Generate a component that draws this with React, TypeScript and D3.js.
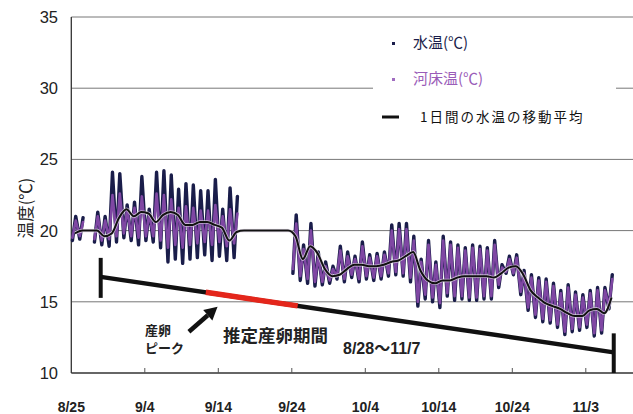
import React from "react";
import * as d3 from "d3";

// ---- data ----
const tickDays = [0, 10, 20, 30, 40, 50, 60, 70];
const tickLabels = ["8/25", "9/4", "9/14", "9/24", "10/4", "10/14", "10/24", "11/3"];
const yTicks = [10, 15, 20, 25, 30, 35];

const N = null;
// daily values, day 0 = 8/25
const waterMax = [
  21.0, 20.9, N,
  21.3, 21.0, 24.1, 24.0, 21.8, 22.0, 23.8, 21.5, 24.1, 24.2, 23.9, 22.9, 23.3, 23.2, 22.8, 22.8, 23.6, 21.5, 23.0, 22.4,
  N, N, N, N, N, N, N,
  21.1, 19.0, 20.5, 18.5, 17.8, 17.5, 18.9, 18.5, 18.2, 19.2, 18.3, 18.4, 18.5, 20.4, 20.5, 20.5, 19.6, 18.0, 19.3, 17.8,
  19.6, 19.2, 19.0, 18.8, 19.0, 18.9, 18.8, 19.3, 17.6, 18.2, 18.3, 17.2, 16.9, 16.7, 16.6, 16.3, 15.8, 16.2, 15.7, 15.5,
  15.8, 16.0, 16.0, 16.9,
];
const waterMin = [
  19.3, 19.4, N,
  19.2, 19.0, 18.9, 19.2, 19.5, 19.3, 19.0, 19.3, 19.2, 18.8, 17.8, 18.0, 17.7, 18.0, 18.1, 18.3, 17.9, 18.2, 17.9, 18.1,
  N, N, N, N, N, N, N,
  17.0, 16.5, 16.3, 16.1, 16.2, 16.3, 16.6, 16.4, 16.7, 16.4, 16.6, 16.5, 16.6, 16.8, 16.9, 16.8, 16.4, 14.7, 15.2, 15.0,
  14.6, 15.4, 15.1, 15.2, 15.1, 15.1, 15.2, 15.2, 16.0, 17.0, 16.9, 15.5, 14.4, 13.9, 13.6, 13.5, 13.2, 12.7, 12.9, 13.0,
  13.2, 12.6, 12.8, 14.5,
];
const bedMax = [
  20.7, 20.6, N,
  21.0, 20.7, 22.5, 22.6, 21.5, 21.6, 22.4, 21.2, 22.6, 22.5, 22.2, 21.6, 21.7, 21.6, 21.4, 21.4, 21.8, 21.0, 21.5, 21.2,
  N, N, N, N, N, N, N,
  20.5, 18.7, 20.0, 18.2, 17.5, 17.3, 18.6, 18.2, 18.0, 18.9, 18.1, 18.2, 18.3, 20.0, 20.1, 20.1, 19.3, 17.8, 19.0, 17.6,
  19.3, 19.0, 18.8, 18.6, 18.8, 18.7, 18.6, 19.0, 17.4, 18.0, 18.1, 17.0, 16.7, 16.5, 16.4, 16.1, 15.6, 16.0, 15.5, 15.3,
  15.6, 15.8, 15.8, 16.6,
];
const bedMin = [
  19.5, 19.6, N,
  19.4, 19.3, 19.4, 19.6, 19.8, 19.6, 19.5, 19.6, 19.6, 19.3, 18.8, 19.0, 18.8, 19.0, 19.1, 19.2, 19.0, 19.2, 18.9, 19.1,
  N, N, N, N, N, N, N,
  17.3, 16.8, 16.6, 16.4, 16.4, 16.5, 16.8, 16.6, 16.9, 16.6, 16.8, 16.7, 16.8, 17.0, 17.1, 17.0, 16.7, 15.0, 15.5, 15.3,
  14.9, 15.6, 15.4, 15.4, 15.3, 15.3, 15.4, 15.4, 16.2, 17.1, 17.0, 15.7, 14.6, 14.1, 13.8, 13.7, 13.4, 12.9, 13.1, 13.2,
  13.4, 12.8, 13.0, 14.7,
];
const movingAvg = [
  19.8, 20.0, 20.0, 20.0, 19.6, 19.8, 20.9, 21.5, 21.0, 21.3, 21.2, 20.6, 21.1, 21.3, 21.1, 20.4, 20.4, 20.6, 20.6, 20.4,
  20.2, 19.3, 19.9,
  20.0, 20.0, 20.0, 20.0, 20.0, 20.0, 20.0,
  19.6, 18.0, 18.9, 18.4, 17.3, 16.8, 16.9, 17.3, 17.6, 17.6, 17.5, 17.5, 17.6, 17.8, 17.9, 18.2, 18.5, 17.2, 16.5, 16.3,
  16.5, 16.5, 16.7, 16.8, 16.8, 16.8, 16.8, 16.7, 17.0, 17.4, 17.5, 16.9, 15.8, 15.3, 14.9, 14.7, 14.5, 14.2, 14.0, 14.0,
  14.4, 14.5, 14.2, 15.3,
];

// spawning period annotation (day, temperature)
const spawnLine = [
  { day: 4.0, t: 16.75 },
  { day: 73.8, t: 11.45 },
];
const peakRange = [18.3, 30.8];
const arrowPts = [
  { day: 16.0, t: 12.9 },
  { day: 19.9, t: 14.65 },
];

const W = 633;
const H = 414;

const x = d3.scaleLinear().domain([0, 76.42]).range([71.3, 633]);
const y = d3.scaleLinear().domain([10, 35]).range([373, 17]);

function zigzag(maxA: (number | null)[], minA: (number | null)[]) {
  const pts: { d: number; v: number | null }[] = [];
  maxA.forEach((mx, i) => {
    const mn = minA[i];
    if (mx == null || mn == null) {
      pts.push({ d: i, v: null });
    } else {
      pts.push({ d: i + 0.15, v: mn });
      pts.push({ d: i + 0.6, v: mx });
    }
  });
  const gen = d3
    .line<{ d: number; v: number | null }>()
    .defined((p) => p.v != null)
    .x((p) => x(p.d))
    .y((p) => y(p.v as number));
  return gen(pts) || "";
}

export default function App() {
  const waterPath = zigzag(waterMax, waterMin);
  const bedPath = zigzag(bedMax, bedMin);
  const maPath =
    d3
      .line<number>()
      .x((_, i) => x(i + 0.5))
      .y((v) => y(v))
      .curve(d3.curveMonotoneX)(movingAvg) || "";

  const tl = (d: number) => spawnLine[0].t + ((d - spawnLine[0].day) / (spawnLine[1].day - spawnLine[0].day)) * (spawnLine[1].t - spawnLine[0].t);

  const ax0 = x(arrowPts[0].day), ay0 = y(arrowPts[0].t);
  const ax1 = x(arrowPts[1].day), ay1 = y(arrowPts[1].t);
  const ang = Math.atan2(ay1 - ay0, ax1 - ax0);
  const headLen = 13, headW = 7;
  const bx = ax1 - headLen * Math.cos(ang), by = ay1 - headLen * Math.sin(ang);
  const head = [
    [ax1, ay1],
    [bx + headW * Math.sin(ang), by - headW * Math.cos(ang)],
    [bx - headW * Math.sin(ang), by + headW * Math.cos(ang)],
  ];

  const sans = "'Liberation Sans', Arial, 'Noto Sans CJK JP', sans-serif";
  const jp = "'Noto Sans CJK JP', 'Liberation Sans', sans-serif";

  return (
    <svg width={W} height={H} style={{ position: "absolute", left: 0, top: 0, background: "#fff" }}>
      <rect x={0} y={0} width={W} height={H} fill="#fff" />
      {/* gridlines */}
      {yTicks.filter((t) => t > 10).map((t) => (
        <line key={t} x1={x(0)} x2={W} y1={y(t)} y2={y(t)} stroke="#777" strokeWidth={1} />
      ))}
      {/* axes */}
      <line x1={x(0)} x2={x(0)} y1={y(35)} y2={y(10)} stroke="#333" strokeWidth={1.3} />
      <line x1={x(0)} x2={W} y1={y(10)} y2={y(10)} stroke="#333" strokeWidth={1.3} />
      {tickDays.slice(1).map((d) => (
        <line key={d} x1={x(d)} x2={x(d)} y1={y(10)} y2={y(10) - 5} stroke="#555" strokeWidth={1} />
      ))}
      {yTicks.map((t) => (
        <text key={t} x={58} y={y(t)} dy="0.36em" textAnchor="end" fontFamily={sans} fontSize={16.5} fill="#222">
          {t}
        </text>
      ))}
      {tickDays.map((d, i) => (
        <text key={d} x={x(d)} y={412} textAnchor="middle" fontFamily={sans} fontSize={14} fontWeight="bold" fill="#222">
          {tickLabels[i]}
        </text>
      ))}
      <text transform={`translate(26,208) rotate(-90)`} textAnchor="middle" dy="0.35em" fontFamily={jp} fontSize={16.5} fill="#222">
        温度(℃)
      </text>

      {/* legend box */}
      <rect x={373} y={24} width={243} height={114} fill="#fff" />
      <rect x={392} y={42} width={3} height={3} fill="#1a1d4a" />
      <text x={413} y={43} dy="0.36em" fontFamily={jp} fontSize={15} fill="#1a1d4a">水温(℃)</text>
      <rect x={392} y={78} width={3} height={3} fill="#a06cc0" />
      <text x={413} y={79} dy="0.36em" fontFamily={jp} fontSize={15} fill="#9a5cb8">河床温(℃)</text>
      <line x1={382} x2={399} y1={117} y2={117} stroke="#111" strokeWidth={3} />
      <text x={420} y={117} dy="0.36em" fontFamily={jp} fontSize={13.5} letterSpacing={2} fill="#111">1日間の水温の移動平均</text>

      {/* data */}
      <path d={waterPath} fill="none" stroke="#1a1d4a" strokeWidth={3.4} strokeLinejoin="round" strokeLinecap="round" />
      <path d={bedPath} fill="none" stroke="#7f47a3" strokeWidth={2.6} strokeLinejoin="round" strokeLinecap="round" />
      <path d={maPath} fill="none" stroke="#e8e0ee" strokeWidth={3.6} opacity={0.7} />
      <path d={maPath} fill="none" stroke="#111" strokeWidth={2} />

      {/* spawning period */}
      <line x1={x(spawnLine[0].day)} x2={x(spawnLine[1].day)} y1={y(spawnLine[0].t)} y2={y(spawnLine[1].t)} stroke="#111" strokeWidth={4.5} />
      <line x1={x(peakRange[0])} x2={x(peakRange[1])} y1={y(tl(peakRange[0]))} y2={y(tl(peakRange[1]))} stroke="#e4261b" strokeWidth={5.5} />
      <line x1={x(spawnLine[0].day)} x2={x(spawnLine[0].day)} y1={y(spawnLine[0].t) - 19} y2={y(spawnLine[0].t) + 21} stroke="#111" strokeWidth={4} />
      <line x1={x(spawnLine[1].day)} x2={x(spawnLine[1].day)} y1={y(spawnLine[1].t) - 19} y2={y(10)} stroke="#111" strokeWidth={4} />
      <line x1={ax0} y1={ay0} x2={bx} y2={by} stroke="#111" strokeWidth={4.5} />
      <polygon points={head.map((p) => p.join(",")).join(" ")} fill="#111" />

      <text x={145} y={330} dy="0.36em" fontFamily={jp} fontSize={13} fontWeight="bold" fill="#222">産卵</text>
      <text x={145} y={348} dy="0.36em" fontFamily={jp} fontSize={13} fontWeight="bold" fill="#222">ピーク</text>
      <text x={223} y={336} dy="0.36em" fontFamily={jp} fontSize={17.5} fontWeight="bold" fill="#222">推定産卵期間</text>
      <text x={343} y={348} dy="0.36em" fontFamily={sans} fontSize={16} fontWeight="bold" fill="#222">8/28～11/7</text>
    </svg>
  );
}
